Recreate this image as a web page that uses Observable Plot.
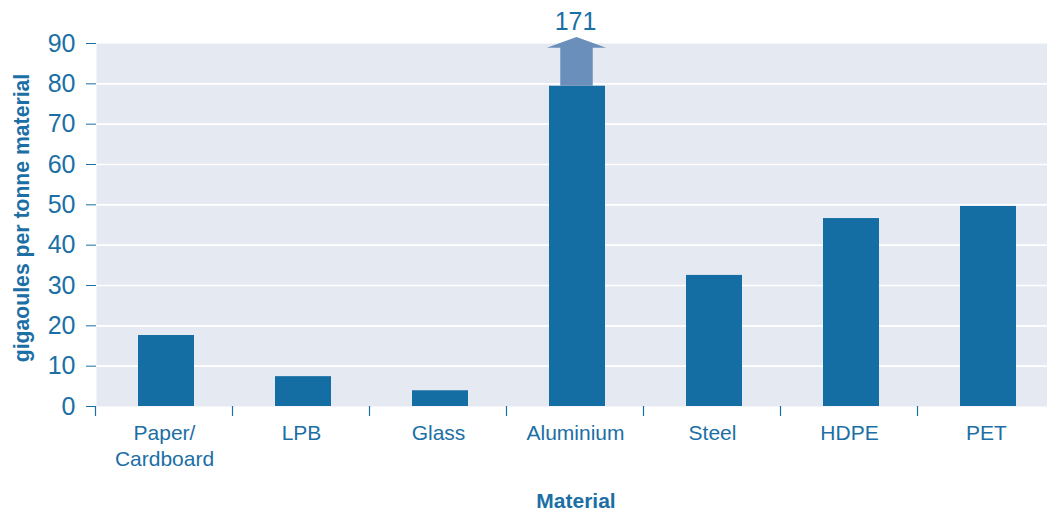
<!DOCTYPE html>
<html>
<head>
<meta charset="utf-8">
<script src="https://cdn.jsdelivr.net/npm/d3@7"></script>
<script src="https://cdn.jsdelivr.net/npm/@observablehq/plot@0.6"></script>
<style>
  html, body { margin: 0; padding: 0; background: #fff; overflow: hidden; }
  #chart svg { display: block; max-width: none !important; }
</style>
</head>
<body>
<div id="chart"></div>
<script>
// ---- data ----
const materials = ["Paper/Cardboard", "LPB", "Glass", "Aluminium", "Steel", "HDPE", "PET"];
const tickLabels = ["Paper/\nCardboard", "LPB", "Glass", "Aluminium", "Steel", "HDPE", "PET"];
const energy = [17.6, 7.4, 3.9, 171, 32.5, 46.6, 49.6];
const yTicks = [0, 10, 20, 30, 40, 50, 60, 70, 80, 90];
const axisMax = 90;
const breakValue = 79.4; // value where the off-scale bar is cut
const yLabel = "gigaoules per tonne material";
const xLabel = "Material";

const table = materials.map((m, i) => ({
  material: m,
  label: tickLabels[i],
  value: energy[i],
  shown: Math.min(energy[i], breakValue)
}));
const offscale = table.filter(d => d.value > axisMax);

const textColor = "#1b6fa5";
const barColor = "#156ea3";
const arrowColor = "#6b8fbb";
const bgColor = "#e5e9f2";
const font = "'Liberation Sans', Arial, Helvetica, sans-serif";

// boundary ticks between categories on the x axis
function bandTicks(index, scales, values, dimensions) {
  const g = d3.create("svg:g");
  const x = scales.x;
  const bw = x.bandwidth ? x.bandwidth() : 0;
  const step = x.step ? x.step() : (dimensions.width - dimensions.marginLeft - dimensions.marginRight) / materials.length;
  const y0 = dimensions.height - dimensions.marginBottom;
  materials.forEach(m => {
    const bx = x(m) + bw / 2 - step / 2;
    g.append("line")
      .attr("x1", bx).attr("x2", bx)
      .attr("y1", y0).attr("y2", y0 + 10)
      .attr("stroke", textColor).attr("stroke-width", 1.2);
  });
  return g.node();
}

// upward arrow above bars that run off the scale
function breakArrows(index, scales) {
  const g = d3.create("svg:g");
  const x = scales.x, y = scales.y;
  const bw = x.bandwidth ? x.bandwidth() : 57;
  offscale.forEach(d => {
    const cx = x(d.material) + bw / 2 + 1.5;
    const shaftW = bw * 0.29;
    const headW = bw * 0.53;
    const yBase = y(breakValue), yHead = y(88.8), yTip = y(91.5);
    const p = [
      [cx - shaftW, yBase], [cx - shaftW, yHead], [cx - headW, yHead],
      [cx, yTip], [cx + headW, yHead], [cx + shaftW, yHead], [cx + shaftW, yBase]
    ];
    g.append("path")
      .attr("d", "M" + p.map(q => q.join(",")).join("L") + "Z")
      .attr("fill", arrowColor);
  });
  return g.node();
}

const chart = Plot.plot({
  width: 1055,
  height: 511,
  marginTop: 43,
  marginBottom: 105,
  marginLeft: 96,
  marginRight: 0,
  style: { fontFamily: font, fontSize: "25px", color: textColor, background: "#fff", overflow: "visible", maxWidth: "none" },
  x: { domain: materials, paddingInner: 0.59, paddingOuter: 0.295, axis: null },
  y: { domain: [0, axisMax], ticks: yTicks, tickSize: 10, tickPadding: 11, label: null, tickFormat: d => d },
  marks: [
    Plot.frame({ fill: bgColor, stroke: "none" }),
    Plot.ruleY(yTicks.filter(t => t > 0 && t < axisMax), { stroke: "#ffffff", strokeWidth: 1.6 }),
    Plot.barY(table, { x: "material", y: "shown", fill: barColor, dx: 2 }),
    breakArrows,
    Plot.text(offscale, { x: "material", y: () => 95.3, text: d => String(d.value), fill: textColor, fontSize: 25, lineAnchor: "middle" }),
    bandTicks,
    Plot.text(table, { x: "material", frameAnchor: "bottom", text: "label", dy: 16, lineAnchor: "top", lineHeight: 1.2, fontSize: 21, fill: textColor }),
    Plot.text([xLabel], { frameAnchor: "bottom", text: d => d, dy: 95, lineAnchor: "middle", fontSize: 21, fontWeight: "bold", fill: textColor }),
    Plot.text([yLabel], { frameAnchor: "left", text: d => d, dx: -74, dy: -7, rotate: -90, textAnchor: "middle", lineAnchor: "middle", fontSize: 21.2, fontWeight: "bold", fill: textColor })
  ]
});
document.getElementById("chart").appendChild(chart);
</script>
</body>
</html>
